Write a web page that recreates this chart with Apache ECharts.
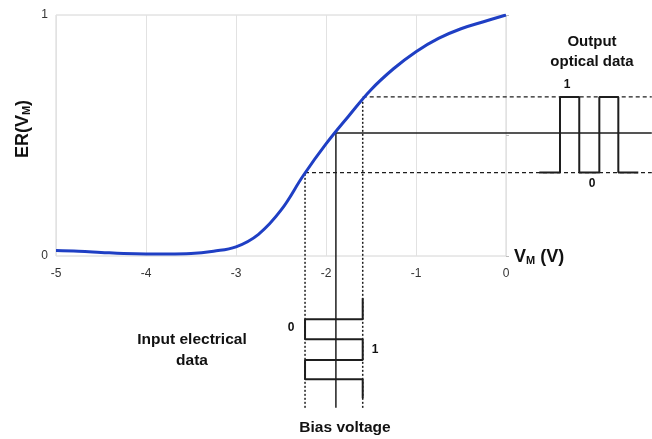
<!DOCTYPE html>
<html>
<head>
<meta charset="utf-8">
<script src="https://cdn.jsdelivr.net/npm/echarts@6/dist/echarts.min.js"></script>
<style>html,body{margin:0;padding:0;background:#fff;}#c{width:652px;height:439px;}</style>
</head>
<body>
<div id="c"></div>
<script>
// ---- data ----
const vm = [-5, -4.75, -4.5, -4.25, -4, -3.75, -3.5, -3.25, -3, -2.75, -2.5, -2.25, -2, -1.75, -1.5, -1.25, -1, -0.75, -0.5, -0.25, 0];
const er = [0.023, 0.02, 0.015, 0.01, 0.008, 0.008, 0.01, 0.02, 0.038, 0.09, 0.19, 0.335, 0.465, 0.58, 0.69, 0.777, 0.848, 0.903, 0.943, 0.972, 1.0];
const xTicks = [-5, -4, -3, -2, -1, 0];
const yTicks = [0, 1];
const bias = [-1.89, 0.51];          // bias point on curve
const lowPt = [-2.233, 0.346];       // "0" level operating point
const highPt = [-1.592, 0.66];       // "1" level operating point
const rightEnd = 1.62;               // schematic lines reach here (VM units)
const bottomEnd = -0.63;             // vertical guide lines reach here (ER units)
const outTimes = [0.37, 0.6, 0.814, 1.037, 1.248, 1.47];
const outBits = [0, 1, 0, 1, 0];
const inTimes = [-0.1755, -0.2627, -0.3456, -0.4315, -0.5116, -0.5905];
const inBits = [1, 0, 1, 0, 1];

// ---- build ----
const curve = vm.map((v, i) => [v, er[i]]);
const outWave = [];
outBits.forEach((b, i) => {
  const lvl = b ? highPt[1] : lowPt[1];
  outWave.push([outTimes[i], lvl], [outTimes[i + 1], lvl]);
});
const inWave = [];
inBits.forEach((b, i) => {
  const x = b ? highPt[0] : lowPt[0];
  inWave.push([x, inTimes[i]], [x, inTimes[i + 1]]);
});

// layout: main plot box
const L = 56, T = 15, W = 450, H = 241, CW = 652, CH = 439;
const pxPerX = W / (xTicks[xTicks.length - 1] - xTicks[0]);
const pxPerY = H / (yTicks[1] - yTicks[0]);
const x2max = xTicks[0] + (CW - L) / pxPerX;
const y2min = yTicks[1] - (CH - T) / pxPerY;

const blk = '#1e1e1e';
function seg(data, type, width) {
  return { type: 'line', xAxisIndex: 1, yAxisIndex: 1, data: data, symbol: 'none', silent: true,
    lineStyle: { color: blk, width: width || 1.5, type: type || 'solid' }, z: 3 };
}
const font = 'Arial, "Liberation Sans", sans-serif';
function txt(x, y, s, size) {
  return { type: 'text', x: x, y: y, style: { text: s, font: 'bold ' + (size || 15) + 'px ' + font, fill: '#111', align: 'center', verticalAlign: 'middle' } };
}

const chart = echarts.init(document.getElementById('c'));
chart.setOption({
  animation: false,
  grid: [
    { left: L, top: T, width: W, height: H, show: true, borderColor: '#d4d4d4', borderWidth: 1 },
    { left: L, top: T, width: CW - L, height: CH - T, show: false }
  ],
  xAxis: [
    { gridIndex: 0, type: 'value', min: xTicks[0], max: xTicks[xTicks.length - 1], interval: 1,
      axisLine: { show: false }, axisTick: { show: false },
      splitLine: { show: true, lineStyle: { color: '#e2e2e2', width: 1 } },
      axisLabel: { color: '#333', fontSize: 12, fontFamily: font, margin: 12 } },
    { gridIndex: 1, type: 'value', min: xTicks[0], max: x2max, show: false }
  ],
  yAxis: [
    { gridIndex: 0, type: 'value', min: yTicks[0], max: yTicks[1], interval: 0.5,
      axisLine: { show: false },
      axisTick: { show: true, inside: true, length: 3, lineStyle: { color: '#bbb' } },
      splitLine: { show: false },
      axisLabel: { color: '#333', fontSize: 12, fontFamily: font, margin: 8,
        formatter: v => (yTicks.indexOf(v) >= 0 ? String(v) : '') } },
    { gridIndex: 1, type: 'value', min: y2min, max: yTicks[1], show: false }
  ],
  graphic: [
    { type: 'text', x: 23, y: 129, rotation: Math.PI / 2,
      style: { text: '{a|ER(V}{b|M}{a|)}', align: 'center', verticalAlign: 'middle',
        rich: { a: { font: 'bold 18px ' + font, fill: '#111' }, b: { font: 'bold 11px ' + font, fill: '#111', padding: [8, 0, 0, 0] } } } },
    { type: 'text', x: 514, y: 257,
      style: { text: '{a|V}{b|M}{a| (V)}', align: 'left', verticalAlign: 'middle',
        rich: { a: { font: 'bold 18px ' + font, fill: '#111' }, b: { font: 'bold 11px ' + font, fill: '#111', padding: [8, 0, 0, 0] } } } },
    txt(592, 42, 'Output'),
    txt(592, 62, 'optical data'),
    txt(567, 85, '1', 12),
    txt(592, 184, '0', 12),
    txt(192, 340, 'Input electrical', 15.5),
    txt(192, 361, 'data', 15.5),
    txt(291, 328, '0', 12),
    txt(375, 350, '1', 12),
    txt(345, 428, 'Bias voltage', 15.5)
  ],
  series: [
    { type: 'line', xAxisIndex: 0, yAxisIndex: 0, data: curve, smooth: 0.4, symbol: 'none', silent: true,
      lineStyle: { color: '#1f3fc4', width: 3 }, z: 5 },
    seg([[bias[0], bottomEnd], bias, [rightEnd, bias[1]]], 'solid', 1.5),
    seg([[lowPt[0], bottomEnd], lowPt], [2, 2], 1.5),
    seg([[highPt[0], bottomEnd], highPt], [2, 2], 1.5),
    seg([lowPt, [rightEnd, lowPt[1]]], [4, 3], 1.3),
    seg([highPt, [rightEnd, highPt[1]]], [4, 3], 1.3),
    seg(outWave, 'solid', 2),
    seg(inWave, 'solid', 2)
  ]
});
</script>
</body>
</html>
